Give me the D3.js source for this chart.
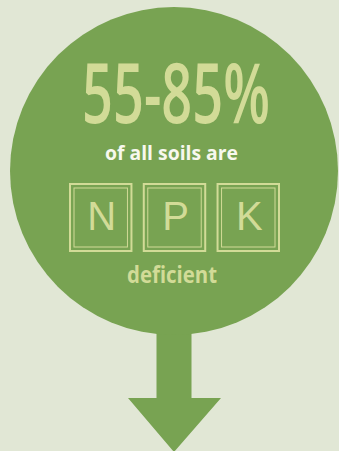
<!DOCTYPE html>
<html>
<head>
<meta charset="utf-8">
<script src="https://cdn.jsdelivr.net/npm/d3@7"></script>
<style>
  body { margin: 0; background: #e1e7d5; }
  svg { display: block; }
</style>
</head>
<body>
<div id="chart"></div>
<script>
// share of soils deficient in the three main nutrients
const rangeLow = [55];
const rangeHigh = [85];
const nutrients = ['N', 'P', 'K'];
const captions = ['of all soils are', 'deficient'];

const width = 339, height = 451;
const bg = '#e1e7d5', green = '#78a352', pale = '#d2db97';

const svg = d3.select('#chart').append('svg')
  .attr('width', width)
  .attr('height', height);

svg.append('rect')
  .attr('width', width).attr('height', height)
  .attr('fill', bg);

const cx = 174, cy = 171, r = 164;

// arrow under the circle
svg.append('path')
  .attr('d', `M${cx - 17.5},${cy} L${cx + 17.5},${cy} L${cx + 17.5},398 L${cx + 47},398 L${cx},452 L${cx - 46},398 L${cx - 17.5},398 Z`)
  .attr('fill', green);

svg.append('circle')
  .attr('cx', cx).attr('cy', cy).attr('r', r)
  .attr('fill', green);

svg.append('text')
  .attr('x', 82).attr('y', 123)
  .attr('textLength', 188)
  .attr('lengthAdjust', 'spacingAndGlyphs')
  .style('font-family', '"Open Sans", sans-serif')
  .style('font-weight', 600)
  .style('font-size', '84px')
  .attr('fill', pale)
  .text(`${rangeLow[0]}-${rangeHigh[0]}%`);

svg.append('text')
  .attr('x', 105).attr('y', 160)
  .attr('textLength', 133)
  .attr('lengthAdjust', 'spacingAndGlyphs')
  .style('font-family', '"Open Sans", sans-serif')
  .style('font-weight', 700)
  .style('font-size', '20px')
  .attr('fill', '#f7f8ee')
  .text(captions[0]);

// nutrient boxes laid out with a band scale
const x = d3.scaleBand()
  .domain(nutrients)
  .range([69, 280])
  .paddingInner(0.14);

const boxTop = 183, boxH = 69;

const box = svg.selectAll('.box')
  .data(nutrients)
  .join('g')
  .attr('class', 'box')
  .attr('transform', d => `translate(${x(d)},${boxTop})`);

box.append('rect')
  .attr('x', 1).attr('y', 1)
  .attr('width', x.bandwidth() - 2).attr('height', boxH - 2)
  .attr('fill', 'none')
  .attr('stroke', pale)
  .attr('stroke-width', 2);

box.append('rect')
  .attr('x', 5).attr('y', 5)
  .attr('width', x.bandwidth() - 10).attr('height', boxH - 10)
  .attr('fill', 'none')
  .attr('stroke', pale)
  .attr('stroke-width', 1);

box.append('text')
  .attr('x', x.bandwidth() / 2 + 1)
  .attr('y', 47)
  .attr('text-anchor', 'middle')
  .style('font-family', '"Liberation Sans", Arial, sans-serif')
  .style('font-size', '40px')
  .attr('fill', pale)
  .text(d => d);

svg.append('text')
  .attr('x', 127).attr('y', 283)
  .attr('textLength', 90)
  .attr('lengthAdjust', 'spacingAndGlyphs')
  .style('font-family', '"Open Sans", sans-serif')
  .style('font-weight', 700)
  .style('font-size', '24px')
  .attr('fill', pale)
  .text(captions[1]);
</script>
</body>
</html>
